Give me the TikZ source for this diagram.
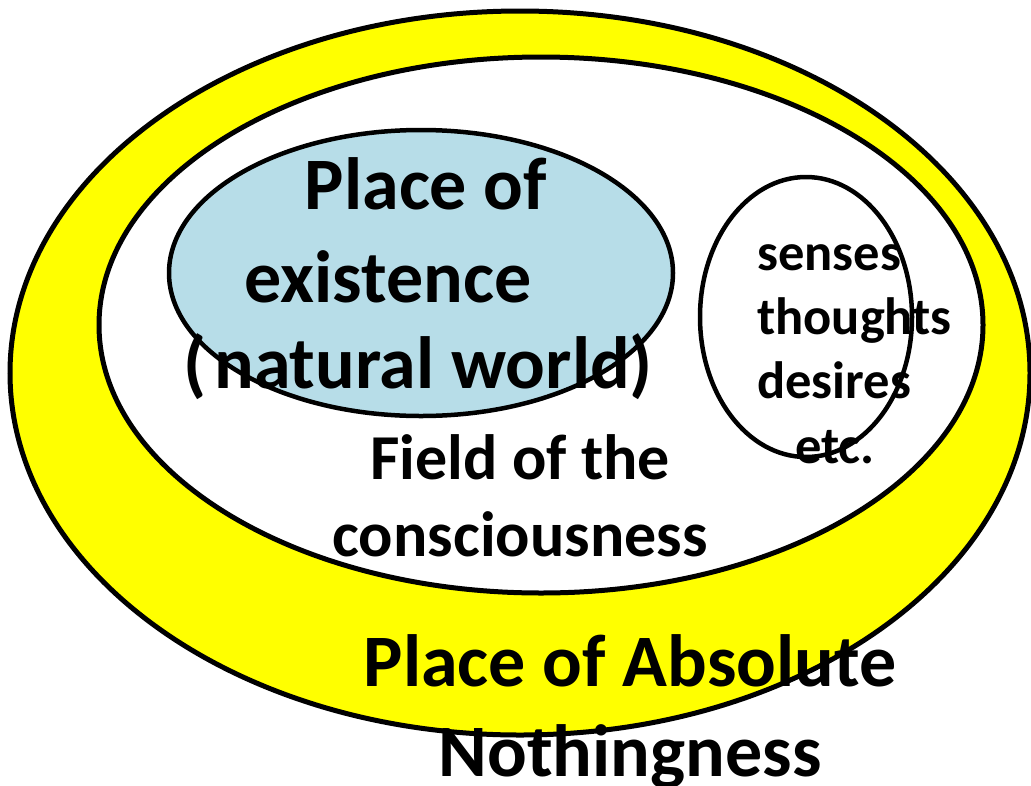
\documentclass[tikz,border=0pt]{standalone}
\usepackage{fontspec}
\setmainfont{Carlito}
\definecolor{ringyellow}{HTML}{FFFF00}
\definecolor{existblue}{HTML}{B7DDE8}
\begin{document}
\begin{tikzpicture}[x=1pt,y=-1pt,
  ring/.style={draw=black,line width=5pt},
  big/.style={font=\fontsize{74}{90}\selectfont\bfseries,inner sep=0pt,anchor=base},
  mid/.style={font=\fontsize{64}{78}\selectfont\bfseries,inner sep=0pt,anchor=base},
  small/.style={font=\fontsize{52.5}{64}\selectfont\bfseries,inner sep=0pt,anchor=base west}]
\useasboundingbox (0,0) rectangle (1031,785);
\fill[white] (0,0) rectangle (1031,785);
% outer place of absolute nothingness
\draw[ring,fill=ringyellow] (520,373) ellipse [x radius=510pt, y radius=362pt];
% field of consciousness
\draw[ring,fill=white] (541,325) ellipse [x radius=442pt, y radius=268pt];
% place of existence
\draw[ring,line width=4.5pt,fill=existblue] (421,273) ellipse [x radius=252pt, y radius=143pt];
% senses etc.
\draw[ring,line width=4.5pt] (806,317) ellipse [x radius=106pt, y radius=140pt];
% texts
\node[big] (pe1) at (426,209) {Place of};
\node[big] (pe2) at (388,302) {existence};
\node[big] (pe3) at (418,388) {(\kern8pt natural world)};
\node[mid] (fc1) at (520,479) {Field of the};
\node[mid] (fc2) at (520,556) {consciousness};
\node[big] (an1) at (630,686) {Place of Absolute};
\node[big] (an2) at (630,776) {Nothingness};
\node[small] (s1) at (757,270) {senses};
\node[small] (s2) at (757,334) {thoughts};
\node[small] (s3) at (757,398) {desires};
\node[small] (s4) at (795,463) {etc.};
\end{tikzpicture}
\end{document}
